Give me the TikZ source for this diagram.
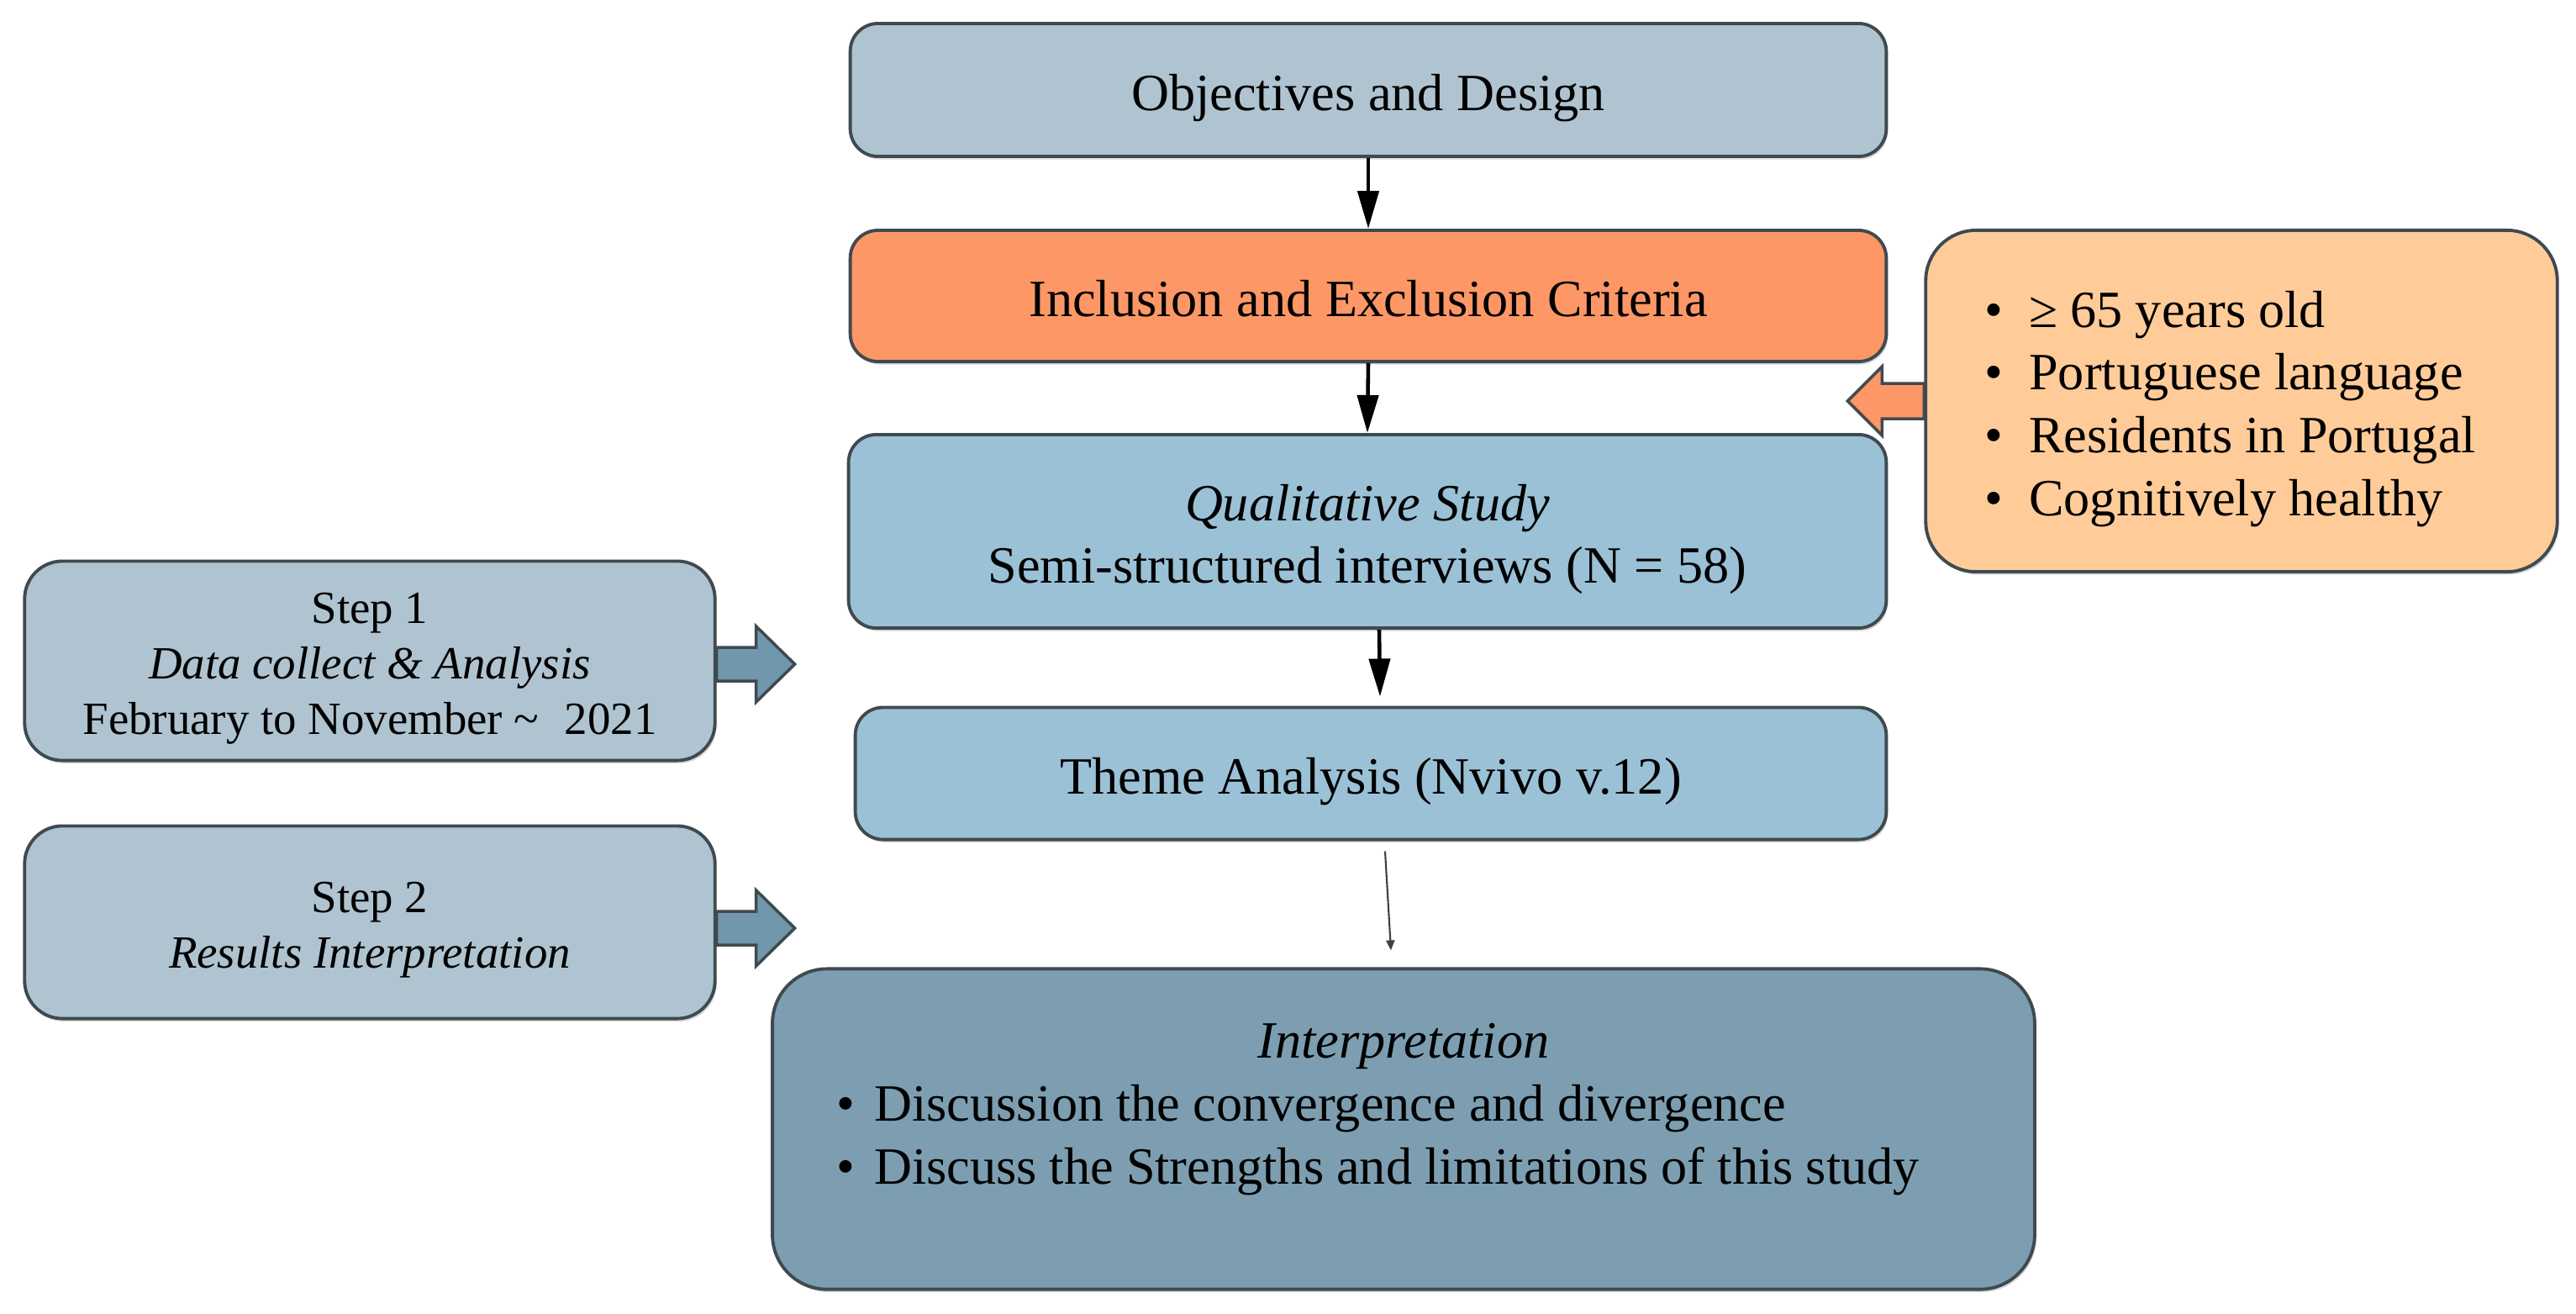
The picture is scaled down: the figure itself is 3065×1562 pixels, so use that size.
\documentclass[tikz,border=0pt]{standalone}
\usepackage{fontspec}
\setmainfont{Liberation Serif}
\usetikzlibrary{calc,arrows.meta,shadows}
\definecolor{objfill}{HTML}{AFC4D0}
\definecolor{incfill}{HTML}{FD9766}
\definecolor{qualfill}{HTML}{9BC1D6}
\definecolor{interpfill}{HTML}{7C9EB0}
\definecolor{critfill}{HTML}{FFCC99}
\definecolor{arrfill}{HTML}{7097AC}
\definecolor{bordercol}{HTML}{3F4A50}
\newcommand\fsA{\fontsize{17.7}{21.3}\selectfont}
\newcommand\fsB{\fontsize{15.6}{18.9}\selectfont}
\newcommand\bitem[2][0.45cm]{\makebox[#1][l]{\textbullet}#2}
\newcommand\tb{\rule{0pt}{1.0em}}
\newcommand\bb{\rule[-0.2em]{0pt}{0pt}}
\begin{document}
\begin{tikzpicture}[x=0.01cm,y=-0.01cm,
  box/.style={draw=bordercol, line width=1.1pt, rounded corners=0.33cm, align=center,
    inner sep=0pt, font=\fsA, text=black,
    drop shadow={opacity=0.3, shadow xshift=0.02cm, shadow yshift=-0.035cm}},
  blk/.style={line width=1.3pt, -{Triangle[length=0.45cm,width=0.25cm]}},
  thinarrow/.style={line width=0.6pt, draw=black!75, -{Triangle[length=0.12cm,width=0.1cm]}},
  blockarr/.style={draw=bordercol, line width=1pt, line join=miter}
]
\useasboundingbox (0,0) rectangle (3065,1562);

% main column
\node[box, fill=objfill, minimum width=12.32cm, minimum height=1.58cm] (obj) at (1628,107) {\tb Objectives and Design\bb};
\node[box, fill=incfill, minimum width=12.32cm, minimum height=1.56cm] (inc) at (1628,352) {\tb Inclusion and Exclusion Criteria\bb};
\node[box, fill=qualfill, minimum width=12.34cm, minimum height=2.30cm] (qual) at (1627,632)
  {\tb\textit{Qualitative Study}\\Semi-structured interviews (N = 58)\bb};
\node[box, fill=qualfill, minimum width=12.26cm, minimum height=1.57cm] (theme) at (1631,920) {\tb Theme Analysis (Nvivo v.12)\bb};
\node[box, fill=interpfill, rounded corners=0.65cm, minimum width=15.01cm, minimum height=3.81cm,
  text width=13.49cm, align=left] (interp) at (1670,1343)
  {\spaceskip=4.3pt\relax
   \makebox[\linewidth]{\tb\textit{Interpretation}}\\
   \bitem{Discussion the convergence and divergence}\\
   \bitem{Discuss the Strengths and limitations of this study}\rule[-23.3pt]{0pt}{0pt}};

% criteria box
\node[box, fill=critfill, rounded corners=0.6cm, minimum width=7.51cm, minimum height=4.06cm,
  text width=6.11cm, align=left] (crit) at (2667,477)
  {\spaceskip=4.3pt\relax
   \tb\bitem[0.53cm]{≥ 65 years old}\\
   \bitem[0.53cm]{Portuguese language}\\
   \bitem[0.53cm]{Residents in Portugal}\\
   \bitem[0.53cm]{Cognitively healthy}\bb};

% step boxes
\node[box, fill=objfill, font=\fsB, rounded corners=0.45cm, minimum width=8.21cm, minimum height=2.37cm] (s1) at (440,786)
  {\tb Step 1\\\textit{Data collect \& Analysis}\\February to November {\textasciitilde}\hspace{0.55em}2021\bb};
\node[box, fill=objfill, font=\fsB, rounded corners=0.45cm, minimum width=8.21cm, minimum height=2.29cm] (s2) at (440,1097)
  {\tb Step 2\\\textit{Results Interpretation}\bb};

% black connectors
\draw[blk] (obj.south) -- (inc.north);
\draw[blk] (inc.south) -- (qual.north);
\draw[blk] ($(qual.south)+(14,0)$) -- ($(theme.north)+(11,-11)$);
\draw[thinarrow] ($(theme.south)+(17,12)$) -- ($(interp.north)+(-15,-20)$);

% block arrows from step boxes
\draw[blockarr, fill=arrfill] ($(s1.east)+(0,-16)$) -- ++(47,0) -- ++(0,-25) -- ($(s1.east)+(93,4)$)
  -- ($(s1.east)+(47,49)$) -- ++(0,-25) -- ($(s1.east)+(0,24)$) -- cycle;
\draw[blockarr, fill=arrfill] ($(s2.east)+(0,-13)$) -- ++(47,0) -- ++(0,-25) -- ($(s2.east)+(93,7)$)
  -- ($(s2.east)+(47,52)$) -- ++(0,-25) -- ($(s2.east)+(0,27)$) -- cycle;

% orange block arrow from criteria box
\draw[blockarr, fill=incfill] ($(crit.west)+(0,-21)$) -- ++(-50,0) -- ++(0,-20) -- ($(crit.west)+(-91,0)$)
  -- ($(crit.west)+(-50,41)$) -- ++(0,-20) -- ($(crit.west)+(0,21)$) -- cycle;
\end{tikzpicture}
\end{document}
